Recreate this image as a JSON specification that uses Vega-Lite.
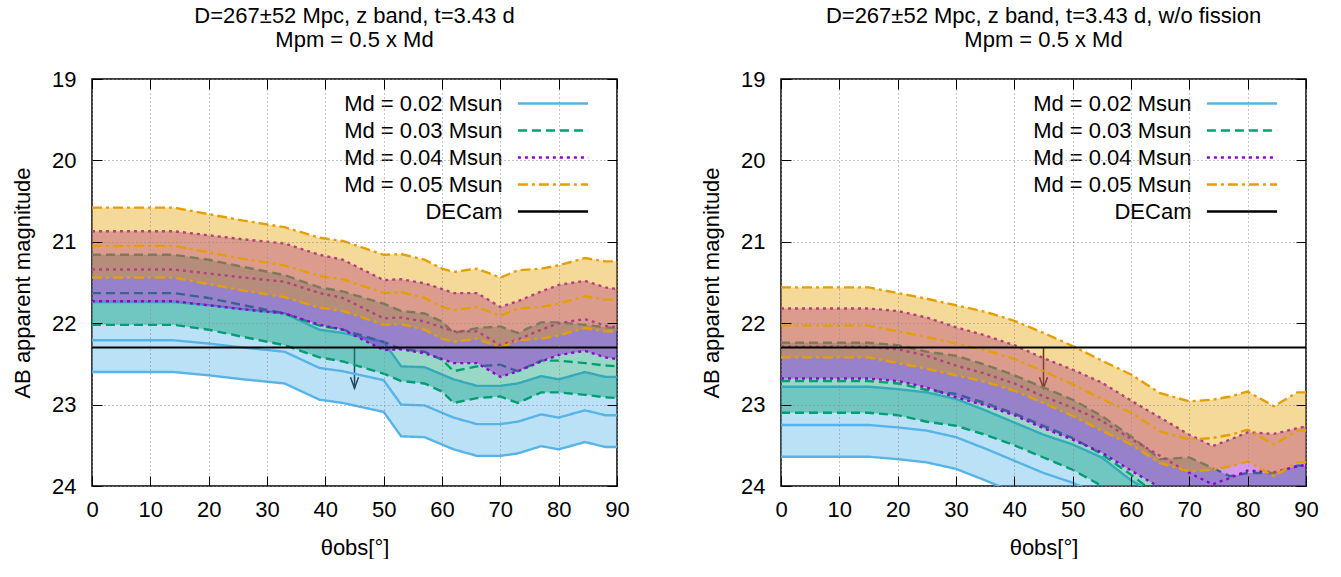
{
  "$schema": "https://vega.github.io/schema/vega-lite/v6.json",
  "background": "white",
  "padding": {"left": 10, "top": 4, "right": 5, "bottom": 0},
  "config": {
    "font": "Liberation Sans",
    "view": {"stroke": "black", "strokeWidth": 1.5},
    "axis": {"labelFontSize": 22, "titleFontSize": 22, "titleFontWeight": "normal", "labelColor": "black", "titleColor": "black", "tickColor": "black", "labelFont": "Liberation Sans", "titleFont": "Liberation Sans"},
    "title": {"fontSize": 22, "fontWeight": "normal", "font": "Liberation Sans", "color": "black"},
    "legend": {"labelFont": "Liberation Sans"}
  },
  "datasets": {
    "marks": [
      {"panel": "L", "md": "DECam", "theta": 45, "limit": 22.3, "tip": 22.8},
      {"panel": "R", "md": "DECam", "theta": 45, "limit": 22.3, "tip": 22.8}
    ],
    "bands": [
      {"panel":"L","md":"0.02","theta":0,"u":21.74,"m":22.21,"l":22.60},
      {"panel":"L","md":"0.02","theta":14,"u":21.74,"m":22.21,"l":22.60},
      {"panel":"L","md":"0.02","theta":20,"u":21.78,"m":22.25,"l":22.64},
      {"panel":"L","md":"0.02","theta":26,"u":21.83,"m":22.30,"l":22.69},
      {"panel":"L","md":"0.02","theta":33,"u":21.88,"m":22.35,"l":22.74},
      {"panel":"L","md":"0.02","theta":39,"u":22.08,"m":22.55,"l":22.94},
      {"panel":"L","md":"0.02","theta":43,"u":22.12,"m":22.59,"l":22.98},
      {"panel":"L","md":"0.02","theta":50,"u":22.23,"m":22.70,"l":23.09},
      {"panel":"L","md":"0.02","theta":53,"u":22.53,"m":23.00,"l":23.39},
      {"panel":"L","md":"0.02","theta":57,"u":22.54,"m":23.01,"l":23.40},
      {"panel":"L","md":"0.02","theta":60,"u":22.63,"m":23.10,"l":23.49},
      {"panel":"L","md":"0.02","theta":62,"u":22.69,"m":23.16,"l":23.55},
      {"panel":"L","md":"0.02","theta":66,"u":22.77,"m":23.24,"l":23.63},
      {"panel":"L","md":"0.02","theta":70,"u":22.77,"m":23.24,"l":23.63},
      {"panel":"L","md":"0.02","theta":73,"u":22.74,"m":23.21,"l":23.60},
      {"panel":"L","md":"0.02","theta":77,"u":22.65,"m":23.12,"l":23.51},
      {"panel":"L","md":"0.02","theta":80,"u":22.69,"m":23.16,"l":23.55},
      {"panel":"L","md":"0.02","theta":84.5,"u":22.60,"m":23.07,"l":23.46},
      {"panel":"L","md":"0.02","theta":88,"u":22.66,"m":23.13,"l":23.52},
      {"panel":"L","md":"0.02","theta":90,"u":22.66,"m":23.13,"l":23.52},

      {"panel":"L","md":"0.03","theta":0,"u":21.16,"m":21.63,"l":22.02},
      {"panel":"L","md":"0.03","theta":14,"u":21.16,"m":21.63,"l":22.02},
      {"panel":"L","md":"0.03","theta":20,"u":21.22,"m":21.69,"l":22.08},
      {"panel":"L","md":"0.03","theta":26,"u":21.31,"m":21.78,"l":22.17},
      {"panel":"L","md":"0.03","theta":33,"u":21.41,"m":21.88,"l":22.27},
      {"panel":"L","md":"0.03","theta":39,"u":21.56,"m":22.03,"l":22.42},
      {"panel":"L","md":"0.03","theta":43,"u":21.61,"m":22.08,"l":22.47},
      {"panel":"L","md":"0.03","theta":50,"u":21.76,"m":22.23,"l":22.62},
      {"panel":"L","md":"0.03","theta":53,"u":21.85,"m":22.32,"l":22.71},
      {"panel":"L","md":"0.03","theta":57,"u":21.88,"m":22.35,"l":22.74},
      {"panel":"L","md":"0.03","theta":60,"u":21.98,"m":22.45,"l":22.84},
      {"panel":"L","md":"0.03","theta":62,"u":22.12,"m":22.59,"l":22.98},
      {"panel":"L","md":"0.03","theta":66,"u":22.06,"m":22.53,"l":22.92},
      {"panel":"L","md":"0.03","theta":70,"u":22.04,"m":22.51,"l":22.90},
      {"panel":"L","md":"0.03","theta":73,"u":22.12,"m":22.59,"l":22.98},
      {"panel":"L","md":"0.03","theta":77,"u":21.99,"m":22.46,"l":22.85},
      {"panel":"L","md":"0.03","theta":80,"u":21.99,"m":22.46,"l":22.85},
      {"panel":"L","md":"0.03","theta":84.5,"u":22.02,"m":22.49,"l":22.88},
      {"panel":"L","md":"0.03","theta":88,"u":22.05,"m":22.52,"l":22.91},
      {"panel":"L","md":"0.03","theta":90,"u":22.06,"m":22.53,"l":22.92},

      {"panel":"L","md":"0.04","theta":0,"u":20.87,"m":21.34,"l":21.73},
      {"panel":"L","md":"0.04","theta":14,"u":20.87,"m":21.34,"l":21.73},
      {"panel":"L","md":"0.04","theta":20,"u":20.92,"m":21.39,"l":21.78},
      {"panel":"L","md":"0.04","theta":26,"u":20.97,"m":21.44,"l":21.83},
      {"panel":"L","md":"0.04","theta":33,"u":21.02,"m":21.49,"l":21.88},
      {"panel":"L","md":"0.04","theta":39,"u":21.16,"m":21.63,"l":22.02},
      {"panel":"L","md":"0.04","theta":43,"u":21.22,"m":21.69,"l":22.08},
      {"panel":"L","md":"0.04","theta":50,"u":21.47,"m":21.94,"l":22.33},
      {"panel":"L","md":"0.04","theta":53,"u":21.46,"m":21.93,"l":22.32},
      {"panel":"L","md":"0.04","theta":57,"u":21.51,"m":21.98,"l":22.37},
      {"panel":"L","md":"0.04","theta":60,"u":21.58,"m":22.05,"l":22.44},
      {"panel":"L","md":"0.04","theta":62,"u":21.63,"m":22.10,"l":22.49},
      {"panel":"L","md":"0.04","theta":66,"u":21.63,"m":22.10,"l":22.49},
      {"panel":"L","md":"0.04","theta":70,"u":21.80,"m":22.27,"l":22.66},
      {"panel":"L","md":"0.04","theta":73,"u":21.73,"m":22.20,"l":22.59},
      {"panel":"L","md":"0.04","theta":77,"u":21.61,"m":22.08,"l":22.47},
      {"panel":"L","md":"0.04","theta":80,"u":21.53,"m":22.00,"l":22.39},
      {"panel":"L","md":"0.04","theta":84.5,"u":21.48,"m":21.95,"l":22.34},
      {"panel":"L","md":"0.04","theta":88,"u":21.56,"m":22.03,"l":22.42},
      {"panel":"L","md":"0.04","theta":90,"u":21.58,"m":22.05,"l":22.44},

      {"panel":"L","md":"0.05","theta":0,"u":20.58,"m":21.05,"l":21.44},
      {"panel":"L","md":"0.05","theta":14,"u":20.58,"m":21.05,"l":21.44},
      {"panel":"L","md":"0.05","theta":20,"u":20.66,"m":21.13,"l":21.52},
      {"panel":"L","md":"0.05","theta":26,"u":20.74,"m":21.21,"l":21.60},
      {"panel":"L","md":"0.05","theta":33,"u":20.82,"m":21.29,"l":21.68},
      {"panel":"L","md":"0.05","theta":39,"u":20.95,"m":21.42,"l":21.81},
      {"panel":"L","md":"0.05","theta":43,"u":20.99,"m":21.46,"l":21.85},
      {"panel":"L","md":"0.05","theta":50,"u":21.16,"m":21.63,"l":22.02},
      {"panel":"L","md":"0.05","theta":53,"u":21.15,"m":21.62,"l":22.01},
      {"panel":"L","md":"0.05","theta":57,"u":21.22,"m":21.69,"l":22.08},
      {"panel":"L","md":"0.05","theta":60,"u":21.33,"m":21.80,"l":22.19},
      {"panel":"L","md":"0.05","theta":62,"u":21.37,"m":21.84,"l":22.23},
      {"panel":"L","md":"0.05","theta":66,"u":21.33,"m":21.80,"l":22.19},
      {"panel":"L","md":"0.05","theta":70,"u":21.44,"m":21.91,"l":22.30},
      {"panel":"L","md":"0.05","theta":73,"u":21.35,"m":21.82,"l":22.21},
      {"panel":"L","md":"0.05","theta":77,"u":21.33,"m":21.80,"l":22.19},
      {"panel":"L","md":"0.05","theta":80,"u":21.29,"m":21.76,"l":22.15},
      {"panel":"L","md":"0.05","theta":84.5,"u":21.20,"m":21.67,"l":22.06},
      {"panel":"L","md":"0.05","theta":88,"u":21.24,"m":21.71,"l":22.10},
      {"panel":"L","md":"0.05","theta":90,"u":21.24,"m":21.71,"l":22.10},

      {"panel":"R","md":"0.02","theta":0,"u":22.78,"m":23.25,"l":23.64},
      {"panel":"R","md":"0.02","theta":15,"u":22.78,"m":23.25,"l":23.64},
      {"panel":"R","md":"0.02","theta":20,"u":22.81,"m":23.28,"l":23.67},
      {"panel":"R","md":"0.02","theta":25,"u":22.85,"m":23.32,"l":23.71},
      {"panel":"R","md":"0.02","theta":30,"u":22.93,"m":23.40,"l":23.79},
      {"panel":"R","md":"0.02","theta":35,"u":23.07,"m":23.54,"l":23.93},
      {"panel":"R","md":"0.02","theta":40,"u":23.22,"m":23.69,"l":24.08},
      {"panel":"R","md":"0.02","theta":45,"u":23.37,"m":23.84,"l":24.23},
      {"panel":"R","md":"0.02","theta":50,"u":23.49,"m":23.96,"l":24.35},
      {"panel":"R","md":"0.02","theta":55,"u":23.65,"m":24.12,"l":24.51},
      {"panel":"R","md":"0.02","theta":60,"u":23.93,"m":24.40,"l":24.79},
      {"panel":"R","md":"0.02","theta":65,"u":24.13,"m":24.60,"l":24.99},
      {"panel":"R","md":"0.02","theta":70,"u":24.18,"m":24.65,"l":25.04},
      {"panel":"R","md":"0.02","theta":74,"u":24.15,"m":24.62,"l":25.01},
      {"panel":"R","md":"0.02","theta":77,"u":24.11,"m":24.58,"l":24.97},
      {"panel":"R","md":"0.02","theta":80,"u":24.08,"m":24.55,"l":24.94},
      {"panel":"R","md":"0.02","theta":84.5,"u":24.08,"m":24.55,"l":24.94},
      {"panel":"R","md":"0.02","theta":88.5,"u":24.03,"m":24.50,"l":24.89},
      {"panel":"R","md":"0.02","theta":90,"u":24.03,"m":24.50,"l":24.89},

      {"panel":"R","md":"0.03","theta":0,"u":22.24,"m":22.71,"l":23.10},
      {"panel":"R","md":"0.03","theta":15,"u":22.24,"m":22.71,"l":23.10},
      {"panel":"R","md":"0.03","theta":20,"u":22.27,"m":22.74,"l":23.13},
      {"panel":"R","md":"0.03","theta":25,"u":22.35,"m":22.82,"l":23.21},
      {"panel":"R","md":"0.03","theta":30,"u":22.40,"m":22.87,"l":23.26},
      {"panel":"R","md":"0.03","theta":35,"u":22.51,"m":22.98,"l":23.37},
      {"panel":"R","md":"0.03","theta":40,"u":22.64,"m":23.11,"l":23.50},
      {"panel":"R","md":"0.03","theta":45,"u":22.79,"m":23.26,"l":23.65},
      {"panel":"R","md":"0.03","theta":50,"u":22.94,"m":23.41,"l":23.80},
      {"panel":"R","md":"0.03","theta":55,"u":23.14,"m":23.61,"l":24.00},
      {"panel":"R","md":"0.03","theta":60,"u":23.39,"m":23.86,"l":24.25},
      {"panel":"R","md":"0.03","theta":65,"u":23.67,"m":24.14,"l":24.53},
      {"panel":"R","md":"0.03","theta":70,"u":23.65,"m":24.12,"l":24.51},
      {"panel":"R","md":"0.03","theta":74,"u":23.78,"m":24.25,"l":24.64},
      {"panel":"R","md":"0.03","theta":77,"u":23.88,"m":24.35,"l":24.74},
      {"panel":"R","md":"0.03","theta":80,"u":23.84,"m":24.31,"l":24.70},
      {"panel":"R","md":"0.03","theta":84.5,"u":23.84,"m":24.31,"l":24.70},
      {"panel":"R","md":"0.03","theta":88.5,"u":23.75,"m":24.22,"l":24.61},
      {"panel":"R","md":"0.03","theta":90,"u":23.75,"m":24.22,"l":24.61},

      {"panel":"R","md":"0.04","theta":0,"u":21.82,"m":22.29,"l":22.68},
      {"panel":"R","md":"0.04","theta":15,"u":21.82,"m":22.29,"l":22.68},
      {"panel":"R","md":"0.04","theta":20,"u":21.85,"m":22.32,"l":22.71},
      {"panel":"R","md":"0.04","theta":25,"u":21.93,"m":22.40,"l":22.79},
      {"panel":"R","md":"0.04","theta":30,"u":22.05,"m":22.52,"l":22.91},
      {"panel":"R","md":"0.04","theta":35,"u":22.15,"m":22.62,"l":23.01},
      {"panel":"R","md":"0.04","theta":40,"u":22.27,"m":22.74,"l":23.13},
      {"panel":"R","md":"0.04","theta":45,"u":22.43,"m":22.90,"l":23.29},
      {"panel":"R","md":"0.04","theta":50,"u":22.57,"m":23.04,"l":23.43},
      {"panel":"R","md":"0.04","theta":55,"u":22.73,"m":23.20,"l":23.59},
      {"panel":"R","md":"0.04","theta":60,"u":22.95,"m":23.42,"l":23.81},
      {"panel":"R","md":"0.04","theta":65,"u":23.16,"m":23.63,"l":24.02},
      {"panel":"R","md":"0.04","theta":70,"u":23.37,"m":23.84,"l":24.23},
      {"panel":"R","md":"0.04","theta":74,"u":23.51,"m":23.98,"l":24.37},
      {"panel":"R","md":"0.04","theta":77,"u":23.43,"m":23.90,"l":24.29},
      {"panel":"R","md":"0.04","theta":80,"u":23.34,"m":23.81,"l":24.20},
      {"panel":"R","md":"0.04","theta":84.5,"u":23.36,"m":23.83,"l":24.22},
      {"panel":"R","md":"0.04","theta":88.5,"u":23.29,"m":23.76,"l":24.15},
      {"panel":"R","md":"0.04","theta":90,"u":23.27,"m":23.74,"l":24.13},

      {"panel":"R","md":"0.05","theta":0,"u":21.56,"m":22.03,"l":22.42},
      {"panel":"R","md":"0.05","theta":15,"u":21.56,"m":22.03,"l":22.42},
      {"panel":"R","md":"0.05","theta":20,"u":21.63,"m":22.10,"l":22.49},
      {"panel":"R","md":"0.05","theta":25,"u":21.70,"m":22.17,"l":22.56},
      {"panel":"R","md":"0.05","theta":30,"u":21.78,"m":22.25,"l":22.64},
      {"panel":"R","md":"0.05","theta":35,"u":21.86,"m":22.33,"l":22.72},
      {"panel":"R","md":"0.05","theta":40,"u":21.97,"m":22.44,"l":22.83},
      {"panel":"R","md":"0.05","theta":45,"u":22.12,"m":22.59,"l":22.98},
      {"panel":"R","md":"0.05","theta":50,"u":22.28,"m":22.75,"l":23.14},
      {"panel":"R","md":"0.05","theta":55,"u":22.46,"m":22.93,"l":23.32},
      {"panel":"R","md":"0.05","theta":60,"u":22.63,"m":23.10,"l":23.49},
      {"panel":"R","md":"0.05","theta":65,"u":22.86,"m":23.33,"l":23.72},
      {"panel":"R","md":"0.05","theta":70,"u":22.96,"m":23.43,"l":23.82},
      {"panel":"R","md":"0.05","theta":74,"u":22.94,"m":23.41,"l":23.80},
      {"panel":"R","md":"0.05","theta":77,"u":22.90,"m":23.37,"l":23.76},
      {"panel":"R","md":"0.05","theta":80,"u":22.84,"m":23.31,"l":23.70},
      {"panel":"R","md":"0.05","theta":84.5,"u":23.02,"m":23.49,"l":23.88},
      {"panel":"R","md":"0.05","theta":88.5,"u":22.85,"m":23.32,"l":23.71},
      {"panel":"R","md":"0.05","theta":90,"u":22.85,"m":23.32,"l":23.71}
    ]
  },
  "spacing": 69,
  "resolve": {"scale": {"color": "independent", "strokeDash": "independent"}},
  "hconcat": [
    {
      "width": 525, "height": 407,
      "title": {"text": ["D=267±52 Mpc, z band, t=3.43 d", "Mpm = 0.5 x Md"], "lineHeight": 24, "offset": 16, "anchor": "middle"},
      "resolve": {"axis": {"x": "independent", "y": "independent"}},
      "layer": [
        {"data": {"name": "marks"}, "transform": [{"filter": "datum.panel == 'L'"}],
         "mark": {"type": "rule", "color": "black", "strokeWidth": 1.5},
         "encoding": {"x": {"field": "theta", "type": "quantitative", "scale": {"domain": [0, 90]}, "axis": null}, "y": {"field": "limit", "type": "quantitative", "scale": {"domain": [19, 24], "reverse": true, "zero": false}, "axis": null}, "y2": {"field": "tip"}}},
        {"data": {"name": "marks"}, "transform": [{"filter": "datum.panel == 'L'"}],
         "mark": {"type": "point", "shape": "M-0.8,-2.2L0,0L0.8,-2.2", "size": 100, "filled": false, "color": "black", "strokeWidth": 1.5, "opacity": 1},
         "encoding": {"x": {"field": "theta", "type": "quantitative", "scale": {"domain": [0, 90]}, "axis": null}, "y": {"field": "tip", "type": "quantitative", "scale": {"domain": [19, 24], "reverse": true, "zero": false}, "axis": null}}},
        {"data": {"name": "bands"}, "transform": [{"filter": "datum.panel == 'L' && datum.md == '0.02'"}],
         "mark": {"type": "area", "fill": "#56b4e9", "fillOpacity": 0.4, "clip": true},
         "encoding": {
           "x": {"field": "theta", "type": "quantitative", "scale": {"domain": [0, 90]},
                 "axis": {"orient": "bottom", "values": [0,10,20,30,40,50,60,70,80,90], "title": "θobs[°]", "grid": true, "gridDash": [1,3], "gridColor": "#8a8a8a", "gridWidth": 1, "tickSize": -10, "tickWidth": 1, "domain": false, "labelPadding": 23, "labelFlush": false, "labelOverlap": false, "titlePadding": 17, "zindex": 1}},
           "y": {"field": "u", "type": "quantitative", "scale": {"domain": [19, 24], "reverse": true, "zero": false},
                 "axis": {"orient": "left", "values": [19,20,21,22,23,24], "title": "AB apparent magnitude", "grid": true, "gridDash": [1,3], "gridColor": "#8a8a8a", "gridWidth": 1, "tickSize": -10, "tickWidth": 1, "domain": false, "labelPadding": 26, "labelFlush": false, "labelOverlap": false, "titlePadding": 17, "zindex": 1}},
           "y2": {"field": "l"}}},
        {"data": {"name": "bands"}, "transform": [{"filter": "datum.panel == 'L' && datum.md == '0.02'"}, {"fold": ["u", "m", "l"], "as": ["which", "mag"]}],
         "mark": {"type": "line", "strokeWidth": 2.4, "clip": true},
         "encoding": {"x": {"field": "theta", "type": "quantitative", "scale": {"domain": [0, 90]}, "axis": null}, "y": {"field": "mag", "type": "quantitative", "scale": {"domain": [19, 24], "reverse": true, "zero": false}, "axis": null}, "detail": {"field": "which"},
           "color": {"field": "md", "type": "nominal", "scale": {"domain": ["0.02","0.03","0.04","0.05","DECam"], "range": ["#56b4e9","#009e73","#9400d3","#e69f00","#000000"]},
             "legend": {"title": null, "orient": "none", "legendX": 446, "legendY": 9.5, "symbolType": "M-2.6,0H2.6", "symbolSize": 729, "symbolStrokeWidth": 2.4, "labelAlign": "right", "labelOffset": -65.5, "labelFontSize": 22, "labelBaseline": "middle", "rowPadding": 1, "padding": 0, "labelLimit": 400, "labelColor": "black", "labelExpr": "datum.label == 'DECam' ? 'DECam' : 'Md = ' + datum.label + ' Msun'"}},
           "strokeDash": {"field": "md", "type": "nominal", "scale": {"domain": ["0.02","0.03","0.04","0.05","DECam"], "range": [[1,0],[9,5],[3,4],[10,4,3,4],[1,0]]},
             "legend": {"title": null, "orient": "none", "legendX": 446, "legendY": 9.5, "symbolType": "M-2.6,0H2.6", "symbolSize": 729, "symbolStrokeWidth": 2.4, "labelAlign": "right", "labelOffset": -65.5, "labelFontSize": 22, "labelBaseline": "middle", "rowPadding": 1, "padding": 0, "labelLimit": 400, "labelColor": "black", "labelExpr": "datum.label == 'DECam' ? 'DECam' : 'Md = ' + datum.label + ' Msun'"}}}},
        {"data": {"name": "bands"}, "transform": [{"filter": "datum.panel == 'L' && datum.md == '0.03'"}],
         "mark": {"type": "area", "fill": "#009e73", "fillOpacity": 0.4, "clip": true},
         "encoding": {"x": {"field": "theta", "type": "quantitative", "scale": {"domain": [0, 90]}, "axis": null}, "y": {"field": "u", "type": "quantitative", "scale": {"domain": [19, 24], "reverse": true, "zero": false}, "axis": null}, "y2": {"field": "l"}}},
        {"data": {"name": "bands"}, "transform": [{"filter": "datum.panel == 'L' && datum.md == '0.03'"}, {"fold": ["u", "m", "l"], "as": ["which", "mag"]}],
         "mark": {"type": "line", "strokeWidth": 2.4, "clip": true},
         "encoding": {"x": {"field": "theta", "type": "quantitative", "scale": {"domain": [0, 90]}, "axis": null}, "y": {"field": "mag", "type": "quantitative", "scale": {"domain": [19, 24], "reverse": true, "zero": false}, "axis": null}, "detail": {"field": "which"}, "color": {"field": "md", "type": "nominal"}, "strokeDash": {"field": "md", "type": "nominal"}}},
        {"data": {"name": "bands"}, "transform": [{"filter": "datum.panel == 'L' && datum.md == '0.04'"}],
         "mark": {"type": "area", "fill": "#9400d3", "fillOpacity": 0.4, "clip": true},
         "encoding": {"x": {"field": "theta", "type": "quantitative", "scale": {"domain": [0, 90]}, "axis": null}, "y": {"field": "u", "type": "quantitative", "scale": {"domain": [19, 24], "reverse": true, "zero": false}, "axis": null}, "y2": {"field": "l"}}},
        {"data": {"name": "bands"}, "transform": [{"filter": "datum.panel == 'L' && datum.md == '0.04'"}, {"fold": ["u", "m", "l"], "as": ["which", "mag"]}],
         "mark": {"type": "line", "strokeWidth": 2.4, "clip": true},
         "encoding": {"x": {"field": "theta", "type": "quantitative", "scale": {"domain": [0, 90]}, "axis": null}, "y": {"field": "mag", "type": "quantitative", "scale": {"domain": [19, 24], "reverse": true, "zero": false}, "axis": null}, "detail": {"field": "which"}, "color": {"field": "md", "type": "nominal"}, "strokeDash": {"field": "md", "type": "nominal"}}},
        {"data": {"name": "bands"}, "transform": [{"filter": "datum.panel == 'L' && datum.md == '0.05'"}],
         "mark": {"type": "area", "fill": "#e69f00", "fillOpacity": 0.4, "clip": true},
         "encoding": {"x": {"field": "theta", "type": "quantitative", "scale": {"domain": [0, 90]}, "axis": null}, "y": {"field": "u", "type": "quantitative", "scale": {"domain": [19, 24], "reverse": true, "zero": false}, "axis": null}, "y2": {"field": "l"}}},
        {"data": {"name": "bands"}, "transform": [{"filter": "datum.panel == 'L' && datum.md == '0.05'"}, {"fold": ["u", "m", "l"], "as": ["which", "mag"]}],
         "mark": {"type": "line", "strokeWidth": 2.4, "clip": true},
         "encoding": {"x": {"field": "theta", "type": "quantitative", "scale": {"domain": [0, 90]}, "axis": null}, "y": {"field": "mag", "type": "quantitative", "scale": {"domain": [19, 24], "reverse": true, "zero": false}, "axis": null}, "detail": {"field": "which"}, "color": {"field": "md", "type": "nominal"}, "strokeDash": {"field": "md", "type": "nominal"}}},
        {"data": {"name": "marks"}, "transform": [{"filter": "datum.panel == 'L'"}],
         "mark": {"type": "rule", "strokeWidth": 2},
         "encoding": {"y": {"field": "limit", "type": "quantitative", "scale": {"domain": [19, 24], "reverse": true, "zero": false}, "axis": null}, "color": {"field": "md", "type": "nominal"}, "strokeDash": {"field": "md", "type": "nominal"}}},
        {"data": {"name": "bands"}, "transform": [{"filter": "datum.panel == 'L'"}],
         "mark": {"type": "point", "opacity": 0},
         "encoding": {
           "x": {"field": "theta", "type": "quantitative", "scale": {"domain": [0, 90]}, "axis": {"orient": "top", "values": [0,10,20,30,40,50,60,70,80,90], "labels": false, "title": null, "grid": false, "tickSize": -10, "tickWidth": 1, "domain": false, "zindex": 1}},
           "y": {"field": "m", "type": "quantitative", "scale": {"domain": [19, 24], "reverse": true, "zero": false}, "axis": {"orient": "right", "values": [19,20,21,22,23,24], "labels": false, "title": null, "grid": false, "tickSize": -10, "tickWidth": 1, "domain": false, "zindex": 1}}}}
      ]
    },
    {
      "width": 525, "height": 407,
      "title": {"text": ["D=267±52 Mpc, z band, t=3.43 d, w/o fission", "Mpm = 0.5 x Md"], "lineHeight": 24, "offset": 16, "anchor": "middle"},
      "resolve": {"axis": {"x": "independent", "y": "independent"}},
      "layer": [
        {"data": {"name": "marks"}, "transform": [{"filter": "datum.panel == 'R'"}],
         "mark": {"type": "rule", "color": "black", "strokeWidth": 1.5},
         "encoding": {"x": {"field": "theta", "type": "quantitative", "scale": {"domain": [0, 90]}, "axis": null}, "y": {"field": "limit", "type": "quantitative", "scale": {"domain": [19, 24], "reverse": true, "zero": false}, "axis": null}, "y2": {"field": "tip"}}},
        {"data": {"name": "marks"}, "transform": [{"filter": "datum.panel == 'R'"}],
         "mark": {"type": "point", "shape": "M-0.8,-2.2L0,0L0.8,-2.2", "size": 100, "filled": false, "color": "black", "strokeWidth": 1.5, "opacity": 1},
         "encoding": {"x": {"field": "theta", "type": "quantitative", "scale": {"domain": [0, 90]}, "axis": null}, "y": {"field": "tip", "type": "quantitative", "scale": {"domain": [19, 24], "reverse": true, "zero": false}, "axis": null}}},
        {"data": {"name": "bands"}, "transform": [{"filter": "datum.panel == 'R' && datum.md == '0.02'"}],
         "mark": {"type": "area", "fill": "#56b4e9", "fillOpacity": 0.4, "clip": true},
         "encoding": {
           "x": {"field": "theta", "type": "quantitative", "scale": {"domain": [0, 90]},
                 "axis": {"orient": "bottom", "values": [0,10,20,30,40,50,60,70,80,90], "title": "θobs[°]", "grid": true, "gridDash": [1,3], "gridColor": "#8a8a8a", "gridWidth": 1, "tickSize": -10, "tickWidth": 1, "domain": false, "labelPadding": 23, "labelFlush": false, "labelOverlap": false, "titlePadding": 17, "zindex": 1}},
           "y": {"field": "u", "type": "quantitative", "scale": {"domain": [19, 24], "reverse": true, "zero": false},
                 "axis": {"orient": "left", "values": [19,20,21,22,23,24], "title": "AB apparent magnitude", "grid": true, "gridDash": [1,3], "gridColor": "#8a8a8a", "gridWidth": 1, "tickSize": -10, "tickWidth": 1, "domain": false, "labelPadding": 26, "labelFlush": false, "labelOverlap": false, "titlePadding": 17, "zindex": 1}},
           "y2": {"field": "l"}}},
        {"data": {"name": "bands"}, "transform": [{"filter": "datum.panel == 'R' && datum.md == '0.02'"}, {"fold": ["u", "m", "l"], "as": ["which", "mag"]}],
         "mark": {"type": "line", "strokeWidth": 2.4, "clip": true},
         "encoding": {"x": {"field": "theta", "type": "quantitative", "scale": {"domain": [0, 90]}, "axis": null}, "y": {"field": "mag", "type": "quantitative", "scale": {"domain": [19, 24], "reverse": true, "zero": false}, "axis": null}, "detail": {"field": "which"},
           "color": {"field": "md", "type": "nominal", "scale": {"domain": ["0.02","0.03","0.04","0.05","DECam"], "range": ["#56b4e9","#009e73","#9400d3","#e69f00","#000000"]},
             "legend": {"title": null, "orient": "none", "legendX": 446, "legendY": 9.5, "symbolType": "M-2.6,0H2.6", "symbolSize": 729, "symbolStrokeWidth": 2.4, "labelAlign": "right", "labelOffset": -65.5, "labelFontSize": 22, "labelBaseline": "middle", "rowPadding": 1, "padding": 0, "labelLimit": 400, "labelColor": "black", "labelExpr": "datum.label == 'DECam' ? 'DECam' : 'Md = ' + datum.label + ' Msun'"}},
           "strokeDash": {"field": "md", "type": "nominal", "scale": {"domain": ["0.02","0.03","0.04","0.05","DECam"], "range": [[1,0],[9,5],[3,4],[10,4,3,4],[1,0]]},
             "legend": {"title": null, "orient": "none", "legendX": 446, "legendY": 9.5, "symbolType": "M-2.6,0H2.6", "symbolSize": 729, "symbolStrokeWidth": 2.4, "labelAlign": "right", "labelOffset": -65.5, "labelFontSize": 22, "labelBaseline": "middle", "rowPadding": 1, "padding": 0, "labelLimit": 400, "labelColor": "black", "labelExpr": "datum.label == 'DECam' ? 'DECam' : 'Md = ' + datum.label + ' Msun'"}}}},
        {"data": {"name": "bands"}, "transform": [{"filter": "datum.panel == 'R' && datum.md == '0.03'"}],
         "mark": {"type": "area", "fill": "#009e73", "fillOpacity": 0.4, "clip": true},
         "encoding": {"x": {"field": "theta", "type": "quantitative", "scale": {"domain": [0, 90]}, "axis": null}, "y": {"field": "u", "type": "quantitative", "scale": {"domain": [19, 24], "reverse": true, "zero": false}, "axis": null}, "y2": {"field": "l"}}},
        {"data": {"name": "bands"}, "transform": [{"filter": "datum.panel == 'R' && datum.md == '0.03'"}, {"fold": ["u", "m", "l"], "as": ["which", "mag"]}],
         "mark": {"type": "line", "strokeWidth": 2.4, "clip": true},
         "encoding": {"x": {"field": "theta", "type": "quantitative", "scale": {"domain": [0, 90]}, "axis": null}, "y": {"field": "mag", "type": "quantitative", "scale": {"domain": [19, 24], "reverse": true, "zero": false}, "axis": null}, "detail": {"field": "which"}, "color": {"field": "md", "type": "nominal"}, "strokeDash": {"field": "md", "type": "nominal"}}},
        {"data": {"name": "bands"}, "transform": [{"filter": "datum.panel == 'R' && datum.md == '0.04'"}],
         "mark": {"type": "area", "fill": "#9400d3", "fillOpacity": 0.4, "clip": true},
         "encoding": {"x": {"field": "theta", "type": "quantitative", "scale": {"domain": [0, 90]}, "axis": null}, "y": {"field": "u", "type": "quantitative", "scale": {"domain": [19, 24], "reverse": true, "zero": false}, "axis": null}, "y2": {"field": "l"}}},
        {"data": {"name": "bands"}, "transform": [{"filter": "datum.panel == 'R' && datum.md == '0.04'"}, {"fold": ["u", "m", "l"], "as": ["which", "mag"]}],
         "mark": {"type": "line", "strokeWidth": 2.4, "clip": true},
         "encoding": {"x": {"field": "theta", "type": "quantitative", "scale": {"domain": [0, 90]}, "axis": null}, "y": {"field": "mag", "type": "quantitative", "scale": {"domain": [19, 24], "reverse": true, "zero": false}, "axis": null}, "detail": {"field": "which"}, "color": {"field": "md", "type": "nominal"}, "strokeDash": {"field": "md", "type": "nominal"}}},
        {"data": {"name": "bands"}, "transform": [{"filter": "datum.panel == 'R' && datum.md == '0.05'"}],
         "mark": {"type": "area", "fill": "#e69f00", "fillOpacity": 0.4, "clip": true},
         "encoding": {"x": {"field": "theta", "type": "quantitative", "scale": {"domain": [0, 90]}, "axis": null}, "y": {"field": "u", "type": "quantitative", "scale": {"domain": [19, 24], "reverse": true, "zero": false}, "axis": null}, "y2": {"field": "l"}}},
        {"data": {"name": "bands"}, "transform": [{"filter": "datum.panel == 'R' && datum.md == '0.05'"}, {"fold": ["u", "m", "l"], "as": ["which", "mag"]}],
         "mark": {"type": "line", "strokeWidth": 2.4, "clip": true},
         "encoding": {"x": {"field": "theta", "type": "quantitative", "scale": {"domain": [0, 90]}, "axis": null}, "y": {"field": "mag", "type": "quantitative", "scale": {"domain": [19, 24], "reverse": true, "zero": false}, "axis": null}, "detail": {"field": "which"}, "color": {"field": "md", "type": "nominal"}, "strokeDash": {"field": "md", "type": "nominal"}}},
        {"data": {"name": "marks"}, "transform": [{"filter": "datum.panel == 'R'"}],
         "mark": {"type": "rule", "strokeWidth": 2},
         "encoding": {"y": {"field": "limit", "type": "quantitative", "scale": {"domain": [19, 24], "reverse": true, "zero": false}, "axis": null}, "color": {"field": "md", "type": "nominal"}, "strokeDash": {"field": "md", "type": "nominal"}}},
        {"data": {"name": "bands"}, "transform": [{"filter": "datum.panel == 'R'"}],
         "mark": {"type": "point", "opacity": 0},
         "encoding": {
           "x": {"field": "theta", "type": "quantitative", "scale": {"domain": [0, 90]}, "axis": {"orient": "top", "values": [0,10,20,30,40,50,60,70,80,90], "labels": false, "title": null, "grid": false, "tickSize": -10, "tickWidth": 1, "domain": false, "zindex": 1}},
           "y": {"field": "m", "type": "quantitative", "scale": {"domain": [19, 24], "reverse": true, "zero": false}, "axis": {"orient": "right", "values": [19,20,21,22,23,24], "labels": false, "title": null, "grid": false, "tickSize": -10, "tickWidth": 1, "domain": false, "zindex": 1}}}}
      ]
    }
  ]
}
